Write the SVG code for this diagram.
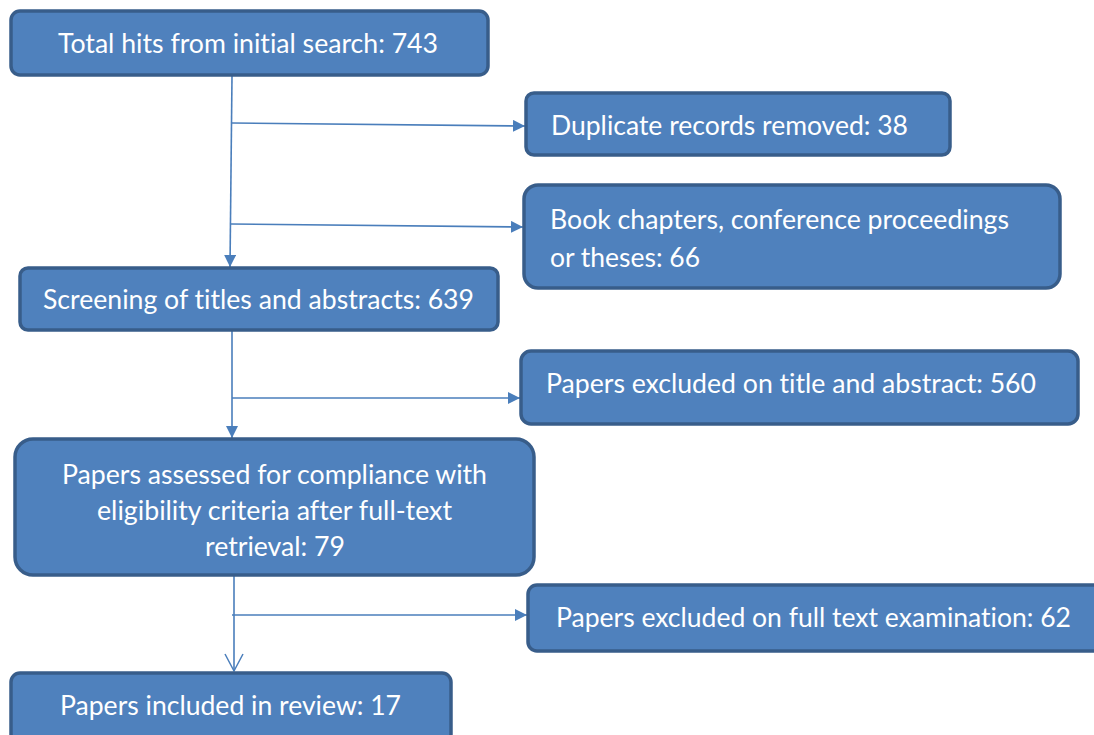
<svg xmlns="http://www.w3.org/2000/svg" width="1094" height="735" viewBox="0 0 1094 735">
<defs>
<marker id="arr" markerWidth="13" markerHeight="12" refX="12" refY="6" orient="auto" markerUnits="userSpaceOnUse">
<path d="M0,0 L12,6 L0,12 Z" fill="#4a7ebb"/>
</marker>
<marker id="open" markerWidth="22" markerHeight="22" refX="20" refY="11" orient="auto" markerUnits="userSpaceOnUse">
<path d="M3,2 L20,11 L3,20" fill="none" stroke="#4a7ebb" stroke-width="1.5"/>
</marker>
</defs>
<style>
.box{fill:#4f81bd;stroke:#385d8a;stroke-width:3.5}
.t{font-family:Lato,"Open Sans","Liberation Sans",sans-serif;font-size:26px;fill:#ffffff;font-variant-ligatures:none}
.c{fill:none;stroke:#4a7ebb;stroke-width:1.6}
</style>
<rect width="1094" height="735" fill="#ffffff"/>
<g id="connectors">
<line class="c" x1="232" y1="76" x2="230" y2="267" marker-end="url(#arr)"/>
<line class="c" x1="232" y1="123" x2="525" y2="126" marker-end="url(#arr)"/>
<line class="c" x1="231" y1="224" x2="523" y2="227" marker-end="url(#arr)"/>
<line class="c" x1="232" y1="331" x2="232" y2="438" marker-end="url(#arr)"/>
<line class="c" x1="232" y1="398" x2="520" y2="398" marker-end="url(#arr)"/>
<line class="c" x1="234" y1="576" x2="234" y2="671" marker-end="url(#open)"/>
<line class="c" x1="232" y1="615" x2="527" y2="615" marker-end="url(#arr)"/>
</g>
<g id="n1"><rect class="box" x="11" y="11" width="477" height="64" rx="9"/>
<text class="t" x="58" y="53" textLength="380" lengthAdjust="spacingAndGlyphs">Total hits from initial search: 743</text></g>
<g id="n2"><rect class="box" x="526" y="93" width="424" height="62" rx="8"/>
<text class="t" x="551" y="135" textLength="357" lengthAdjust="spacingAndGlyphs">Duplicate records removed: 38</text></g>
<g id="n3"><rect class="box" x="524" y="185" width="536" height="103" rx="14"/>
<text class="t" x="550" y="229" textLength="459" lengthAdjust="spacingAndGlyphs">Book chapters, conference proceedings</text>
<text class="t" x="550" y="267" textLength="150" lengthAdjust="spacingAndGlyphs">or theses: 66</text></g>
<g id="n4"><rect class="box" x="20" y="268" width="478" height="62" rx="8"/>
<text class="t" x="43" y="309" textLength="431" lengthAdjust="spacingAndGlyphs">Screening of titles and abstracts: 639</text></g>
<g id="n5"><rect class="box" x="521" y="351" width="557" height="73" rx="10"/>
<text class="t" x="546" y="393" textLength="490" lengthAdjust="spacingAndGlyphs">Papers excluded on title and abstract: 560</text></g>
<g id="n6"><rect class="box" x="15" y="439" width="519" height="136" rx="18"/>
<text class="t" x="62" y="484" textLength="425" lengthAdjust="spacingAndGlyphs">Papers assessed for compliance with</text>
<text class="t" x="97" y="520" textLength="355" lengthAdjust="spacingAndGlyphs">eligibility criteria after full-text</text>
<text class="t" x="205" y="556" textLength="140" lengthAdjust="spacingAndGlyphs">retrieval: 79</text></g>
<g id="n7"><rect class="box" x="528" y="585" width="574" height="66" rx="9"/>
<text class="t" x="556" y="627" textLength="515" lengthAdjust="spacingAndGlyphs">Papers excluded on full text examination: 62</text></g>
<g id="n8"><rect class="box" x="11" y="673" width="440" height="70" rx="9"/>
<text class="t" x="60" y="715" textLength="341" lengthAdjust="spacingAndGlyphs">Papers included in review: 17</text></g>
</svg>
